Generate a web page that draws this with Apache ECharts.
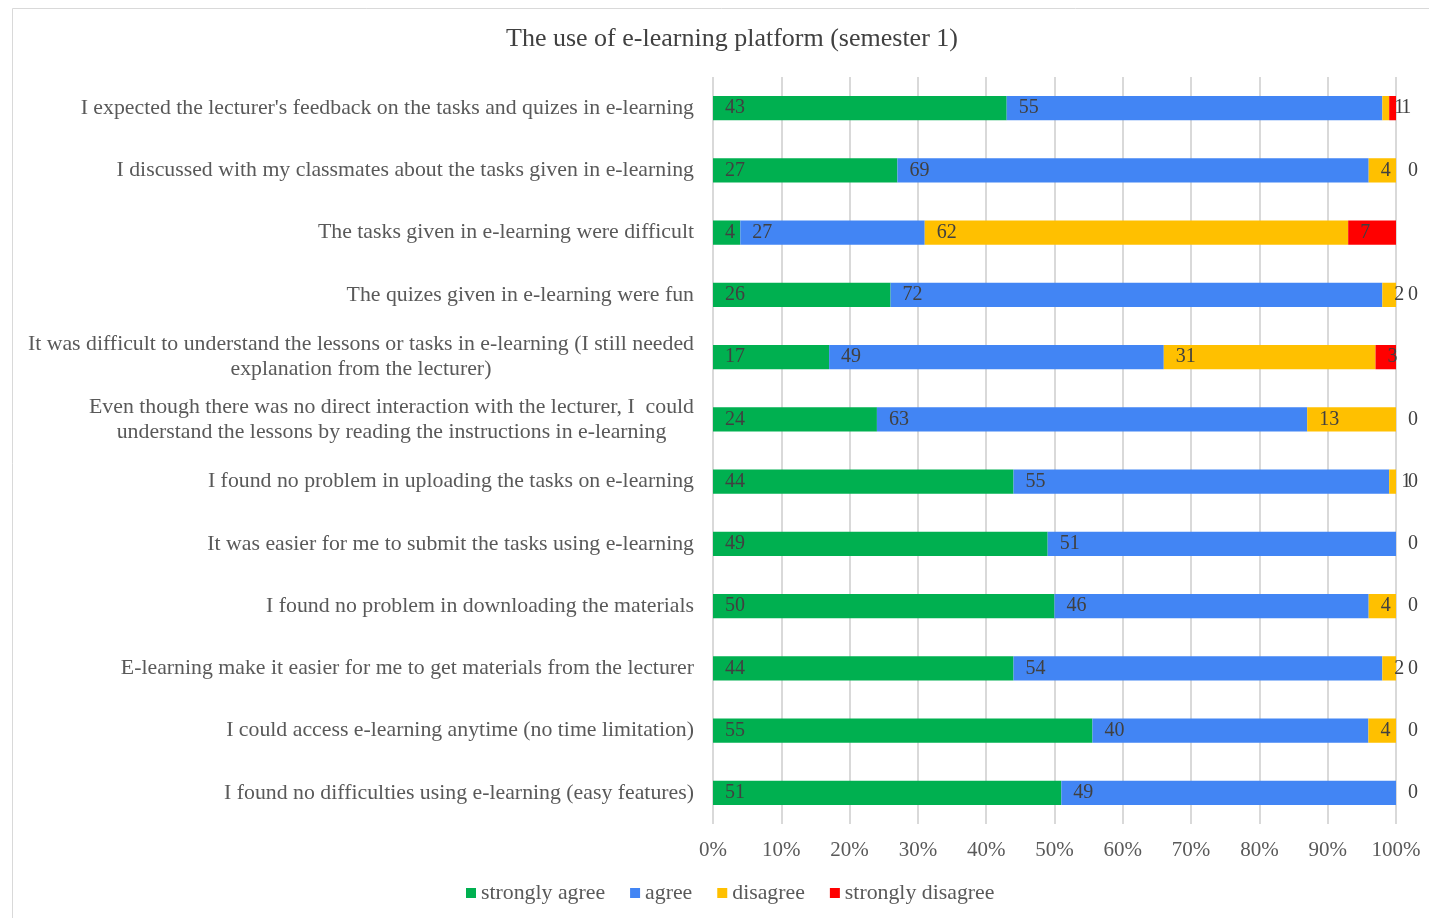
<!DOCTYPE html>
<html>
<head>
<meta charset="utf-8">
<script src="https://cdn.jsdelivr.net/npm/echarts@6/dist/echarts.min.js"></script>
<style>
html,body{margin:0;padding:0;background:#fff;}
#c{width:1429px;height:918px;}
</style>
</head>
<body>
<div id="c"></div>
<script>
const categories = [
  "I expected the lecturer's feedback on the tasks and quizes in e-learning",
  "I discussed with my classmates about the tasks given in e-learning",
  "The tasks given in e-learning were difficult",
  "The quizes given in e-learning were fun",
  "It was difficult to understand the lessons or tasks in e-learning (I still needed\nexplanation from the lecturer)",
  "Even though there was no direct interaction with the lecturer, I  could\nunderstand the lessons by reading the instructions in e-learning",
  "I found no problem in uploading the tasks on e-learning",
  "It was easier for me to submit the tasks using e-learning",
  "I found no problem in downloading the materials",
  "E-learning make it easier for me to get materials from the lecturer",
  "I could access e-learning anytime (no time limitation)",
  "I found no difficulties using e-learning (easy features)"
];
const stronglyAgree    = [43, 27, 4, 26, 17, 24, 44, 49, 50, 44, 55, 51];
const agree            = [55, 69, 27, 72, 49, 63, 55, 51, 46, 54, 40, 49];
const disagree         = [1, 4, 62, 2, 31, 13, 1, 0, 4, 2, 4, 0];
const stronglyDisagree = [1, 0, 7, 0, 3, 0, 0, 0, 0, 0, 0, 0];
const seriesNames = ['strongly agree', 'agree', 'disagree', 'strongly disagree'];
const xTickLabels = ['0%','10%','20%','30%','40%','50%','60%','70%','80%','90%','100%'];

const colors = ['#00B050', '#4285F4', '#FFC000', '#FF0000'];
const raw = [stronglyAgree, agree, disagree, stronglyDisagree];
const totals = categories.map((_, i) => raw.reduce((s, arr) => s + arr[i], 0));

const font = '"Liberation Serif", "Times New Roman", serif';

const series = raw.map((arr, si) => ({
  name: seriesNames[si],
  type: 'bar',
  stack: 'total',
  barWidth: '39%',
  itemStyle: { color: colors[si] },
  label: {
    show: true,
    position: 'insideLeft',
    distance: 12,
    color: '#404040',
    fontFamily: font,
    fontSize: 20,
    formatter: p => {
      const v = arr[p.dataIndex];
      if (si === 2 && v === 0) return '';
      return String(v);
    }
  },
  emphasis: { disabled: true },
  data: arr.map((v, i) => v / totals[i] * 100)
}));

const chart = echarts.init(document.getElementById('c'));
chart.setOption({
  animation: false,
  textStyle: { fontFamily: font },
  title: {
    text: 'The use of e-learning platform (semester 1)',
    left: 727, top: 21, textAlign: 'center',
    textStyle: { fontFamily: font, fontSize: 26, fontWeight: 'normal', color: '#404040' }
  },
  graphic: [{
    type: 'rect', silent: true, z: -1,
    shape: { x: 12.5, y: 8.5, width: 1500, height: 1000 },
    style: { fill: 'none', stroke: '#d9d9d9', lineWidth: 1 }
  }],
  legend: {
    bottom: 9, left: 461,
    itemWidth: 10, itemHeight: 10, itemGap: 25,
    icon: 'rect',
    textStyle: { fontFamily: font, fontSize: 21.8, color: '#595959' },
    data: seriesNames
  },
  grid: { left: 713, right: 33, top: 77, bottom: 94, containLabel: false },
  xAxis: {
    type: 'value', min: 0, max: 100, interval: 10,
    axisLine: { show: false }, axisTick: { show: false },
    splitLine: { show: true, lineStyle: { color: '#d9d9d9', width: 2 } },
    axisLabel: {
      margin: 16, fontFamily: font, fontSize: 21, color: '#595959',
      formatter: v => xTickLabels[Math.round(v / 10)]
    }
  },
  yAxis: {
    type: 'category', inverse: true, data: categories,
    axisLine: { show: false }, axisTick: { show: false },
    axisLabel: {
      margin: 19, align: 'right', fontFamily: font, fontSize: 21.8, color: '#595959', lineHeight: 25,
      formatter: v => v.split('\n').map(l => '{a|' + l + '}').join('\n'),
      rich: { a: { fontFamily: font, fontSize: 21.8, color: '#595959', align: 'center', lineHeight: 25 } }
    }
  },
  series: series
});
</script>
</body>
</html>
